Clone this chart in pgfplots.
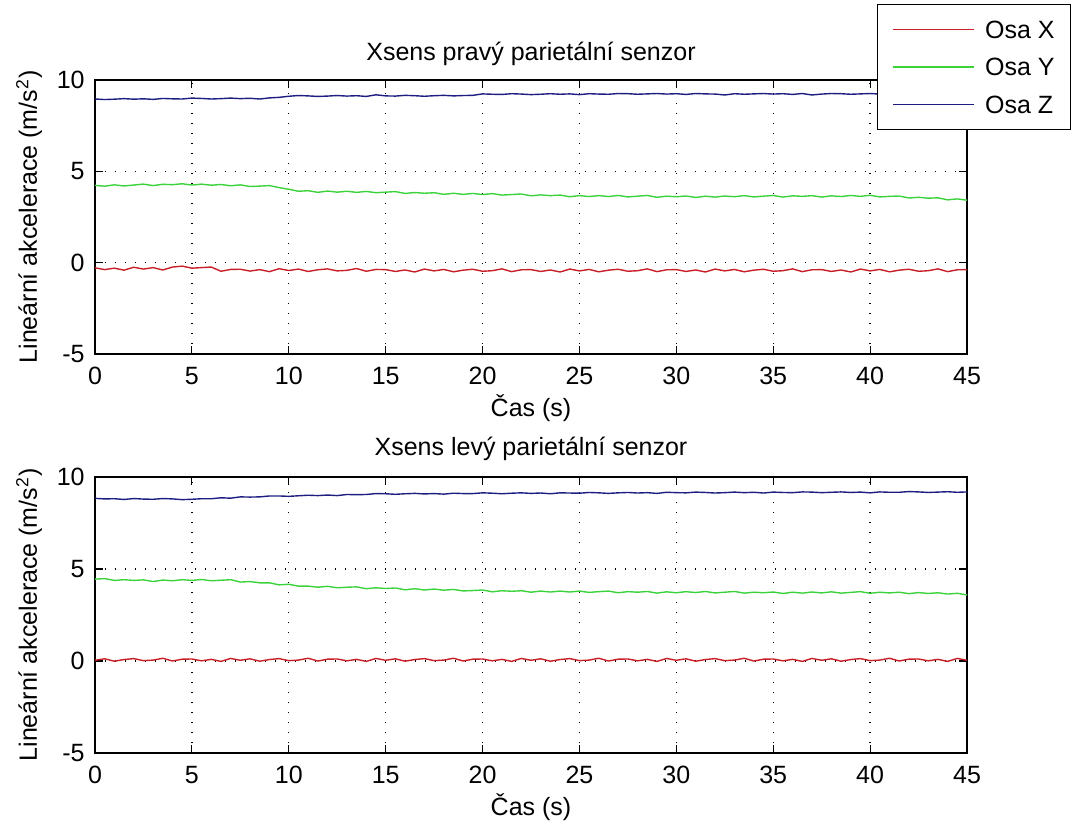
\documentclass[border=0pt]{standalone}
\usepackage{fontspec}
\setmainfont{Liberation Sans}
\usepackage{pgfplots}
\usepackage{pgfplotstable}
\pgfplotsset{compat=1.18}
\definecolor{cX}{RGB}{200,30,40}
\definecolor{cY}{RGB}{60,210,60}
\definecolor{cZ}{RGB}{30,30,130}
\newcommand{\fs}{\fontsize{12.5}{15}\selectfont}

\pgfplotstableread{
t X Y Z
0 -0.28 4.23 8.96
0.5 -0.38 4.19 8.93
1 -0.30 4.26 8.95
1.5 -0.41 4.20 8.98
2 -0.25 4.25 8.95
2.5 -0.35 4.30 8.97
3 -0.27 4.22 8.94
3.5 -0.40 4.29 8.99
4 -0.24 4.27 8.97
4.5 -0.19 4.32 8.96
5 -0.30 4.25 9.01
5.5 -0.27 4.30 8.99
6 -0.24 4.24 8.96
6.5 -0.47 4.28 8.98
7 -0.37 4.21 9.01
7.5 -0.36 4.26 8.98
8 -0.46 4.17 9.00
8.5 -0.38 4.19 8.96
9 -0.49 4.22 9.02
9.5 -0.33 4.11 9.05
10 -0.43 4.02 9.11
10.5 -0.35 3.91 9.15
11 -0.48 3.94 9.13
11.5 -0.39 3.85 9.10
12 -0.34 3.92 9.12
12.5 -0.45 3.86 9.15
13 -0.42 3.91 9.12
13.5 -0.32 3.85 9.14
14 -0.47 3.90 9.10
14.5 -0.37 3.83 9.19
15 -0.38 3.86 9.13
15.5 -0.48 3.89 9.12
16 -0.40 3.79 9.16
16.5 -0.51 3.84 9.14
17 -0.35 3.80 9.11
17.5 -0.45 3.83 9.14
18 -0.37 3.74 9.16
18.5 -0.50 3.80 9.13
19 -0.41 3.74 9.15
19.5 -0.36 3.79 9.16
20 -0.47 3.73 9.24
20.5 -0.44 3.78 9.22
21 -0.34 3.70 9.21
21.5 -0.49 3.73 9.25
22 -0.39 3.76 9.23
22.5 -0.38 3.66 9.20
23 -0.48 3.71 9.22
23.5 -0.40 3.67 9.25
24 -0.51 3.70 9.22
24.5 -0.35 3.61 9.24
25 -0.45 3.67 9.20
25.5 -0.37 3.62 9.25
26 -0.50 3.67 9.23
26.5 -0.41 3.62 9.22
27 -0.36 3.68 9.26
27.5 -0.47 3.60 9.25
28 -0.44 3.64 9.22
28.5 -0.34 3.68 9.24
29 -0.49 3.58 9.26
29.5 -0.39 3.64 9.23
30 -0.38 3.61 9.25
30.5 -0.48 3.65 9.21
31 -0.40 3.57 9.26
31.5 -0.51 3.64 9.24
32 -0.35 3.59 9.23
32.5 -0.45 3.65 9.18
33 -0.37 3.61 9.25
33.5 -0.50 3.67 9.22
34 -0.41 3.60 9.24
34.5 -0.36 3.64 9.26
35 -0.47 3.68 9.23
35.5 -0.44 3.59 9.25
36 -0.34 3.66 9.21
36.5 -0.49 3.63 9.26
37 -0.39 3.67 9.18
37.5 -0.38 3.59 9.23
38 -0.48 3.66 9.26
38.5 -0.40 3.62 9.25
39 -0.51 3.68 9.22
39.5 -0.35 3.63 9.24
40 -0.45 3.69 9.26
40.5 -0.37 3.60 9.23
41 -0.50 3.63 9.25
41.5 -0.41 3.65 9.21
42 -0.36 3.54 9.26
42.5 -0.47 3.58 9.24
43 -0.44 3.53 9.23
43.5 -0.34 3.55 9.25
44 -0.49 3.44 9.25
44.5 -0.39 3.49 9.22
45 -0.38 3.42 9.24
}\topdata

\pgfplotstableread{
t X Y Z
0 0.04 4.45 8.84
0.5 0.12 4.48 8.81
1 -0.01 4.38 8.82
1.5 0.08 4.42 8.78
2 0.13 4.38 8.83
2.5 0.02 4.41 8.80
3 0.05 4.32 8.79
3.5 0.15 4.40 8.83
4 0.00 4.36 8.81
4.5 0.10 4.42 8.77
5 0.11 4.38 8.79
5.5 0.01 4.43 8.82
6 0.09 4.36 8.82
6.5 -0.02 4.39 8.87
7 0.14 4.42 8.85
7.5 0.04 4.29 8.92
8 0.12 4.32 8.91
8.5 -0.01 4.25 8.92
9 0.08 4.25 8.97
9.5 0.13 4.14 8.97
10 0.02 4.17 8.95
10.5 0.05 4.07 8.98
11 0.15 4.07 9.01
11.5 0.00 4.01 8.99
12 0.10 4.06 9.02
12.5 0.11 3.98 8.99
13 0.01 4.01 9.05
13.5 0.09 4.03 9.04
14 -0.02 3.93 9.05
14.5 0.14 3.98 9.10
15 0.04 3.94 9.09
15.5 0.12 3.97 9.06
16 -0.01 3.87 9.09
16.5 0.08 3.93 9.11
17 0.13 3.86 9.08
17.5 0.02 3.91 9.10
18 0.05 3.85 9.07
18.5 0.15 3.89 9.12
19 0.00 3.81 9.10
19.5 0.10 3.83 9.10
20 0.11 3.86 9.14
20.5 0.01 3.76 9.12
21 0.09 3.82 9.09
21.5 -0.02 3.79 9.12
22 0.14 3.82 9.14
22.5 0.04 3.74 9.11
23 0.12 3.80 9.13
23.5 -0.01 3.75 9.09
24 0.08 3.80 9.14
24.5 0.13 3.75 9.13
25 0.02 3.80 9.12
25.5 0.05 3.73 9.16
26 0.15 3.77 9.14
26.5 0.00 3.80 9.11
27 0.10 3.71 9.14
27.5 0.11 3.77 9.16
28 0.01 3.74 9.13
28.5 0.09 3.78 9.15
29 -0.02 3.69 9.11
29.5 0.14 3.76 9.17
30 0.04 3.71 9.15
30.5 0.12 3.77 9.14
31 -0.01 3.72 9.18
31.5 0.08 3.78 9.16
32 0.13 3.70 9.13
32.5 0.02 3.74 9.15
33 0.05 3.78 9.18
33.5 0.15 3.69 9.15
34 0.00 3.74 9.17
34.5 0.10 3.71 9.13
35 0.11 3.75 9.18
35.5 0.01 3.67 9.16
36 0.09 3.74 9.15
36.5 -0.02 3.69 9.19
37 0.14 3.75 9.18
37.5 0.04 3.70 9.15
38 0.12 3.76 9.17
38.5 -0.01 3.69 9.19
39 0.08 3.73 9.16
39.5 0.13 3.77 9.18
40 0.02 3.68 9.14
40.5 0.05 3.74 9.19
41 0.15 3.70 9.17
41.5 0.00 3.74 9.17
42 0.10 3.66 9.21
42.5 0.11 3.72 9.19
43 0.01 3.67 9.16
43.5 0.09 3.71 9.18
44 -0.02 3.64 9.20
44.5 0.14 3.68 9.17
45 0.04 3.59 9.19
}\botdata

\pgfplotsset{myax/.style={
  scale only axis, width=436pt,
  xmin=0, xmax=45, ymin=-5, ymax=10,
  xtick={0,5,...,45}, ytick={-5,0,5,10},
  xticklabels={0,5,10,15,20,25,30,35,40,45},
  yticklabels={-5,0,5,10},
  tick align=inside, xtick pos=both, ytick pos=both,
  major tick length=4pt,
  tick style={black, line width=0.6pt},
  axis line style={black, line width=0.8pt},
  grid=major,
  grid style={black, line width=0.7pt, dash pattern=on 0.7pt off 4.3pt},
  every tick label/.append style={font=\fs},
  xticklabel style={inner sep=0pt, anchor=north, yshift=-6.5pt},
  yticklabel style={inner sep=0pt, anchor=east, xshift=-5pt},
  xlabel={Čas (s)},
  ylabel={Lineární akcelerace (m/s\textsuperscript{2})},
  every axis x label/.style={at={(axis description cs:0.5,0)}, anchor=base, yshift=-31pt, font=\fs},
  every axis y label/.style={at={(axis description cs:0,0.5)}, rotate=90, anchor=base, yshift=29pt, font=\fs},
  every axis title/.style={at={(axis description cs:0.5,1)}, anchor=base, font=\fs},
  every axis plot/.append style={line width=0.7pt},
}}

\begin{document}
\begin{tikzpicture}
\useasboundingbox (0,0) rectangle (537pt,-412.5pt);
\begin{axis}[myax, at={(47.5pt,-177pt)}, anchor=south west, height=137pt,
  title={Xsens pravý parietální senzor},
  title style={yshift=10pt},
  legend cell align=left,
  legend image code/.code={\draw[#1, line width=0.8pt] (0pt,0pt) -- (40.5pt,0pt);},
  legend style={at={(axis description cs:1.119,0.8175)}, anchor=south east,
    draw=black, line width=0.6pt, fill=white, font=\fs,
    inner xsep=7.75pt, inner ysep=8pt, row sep=9.75pt, column sep=5pt,
    nodes={inner sep=0pt, text height=9pt, text depth=0pt}},
  ]
\addplot[cX] table[x=t, y=X] {\topdata};
\addplot[cY] table[x=t, y=Y] {\topdata};
\addplot[cZ] table[x=t, y=Z] {\topdata};
\legend{Osa X, Osa Y, Osa Z}
\end{axis}
\begin{axis}[myax, at={(47.5pt,-376.5pt)}, anchor=south west, height=138pt,
  title={Xsens levý parietální senzor},
  title style={yshift=11pt},
  ]
\addplot[cX] table[x=t, y=X] {\botdata};
\addplot[cY] table[x=t, y=Y] {\botdata};
\addplot[cZ] table[x=t, y=Z] {\botdata};
\end{axis}
\end{tikzpicture}
\end{document}
